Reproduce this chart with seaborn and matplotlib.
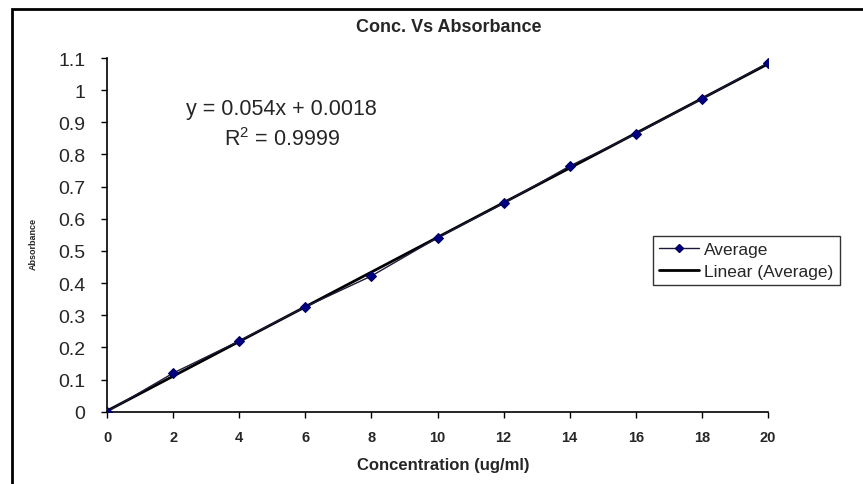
import matplotlib
matplotlib.use("Agg")
import matplotlib.pyplot as plt
import seaborn as sns
import pandas as pd
from matplotlib.patches import Rectangle
from matplotlib.lines import Line2D

concentration = [0, 2, 4, 6, 8, 10, 12, 14, 16, 18, 20]
absorbance = [0.0, 0.120, 0.220, 0.326, 0.422, 0.541, 0.648, 0.764, 0.864, 0.973, 1.085]
x_ticks = [0, 2, 4, 6, 8, 10, 12, 14, 16, 18, 20]
y_ticks = [0, 0.1, 0.2, 0.3, 0.4, 0.5, 0.6, 0.7, 0.8, 0.9, 1.0, 1.1]
y_tick_labels = ["0", "0.1", "0.2", "0.3", "0.4", "0.5", "0.6", "0.7", "0.8", "0.9", "1", "1.1"]
title = "Conc. Vs Absorbance"
x_label = "Concentration (ug/ml)"
y_label = "Absorbance"
equation = "y = 0.054x + 0.0018"
r2_text = "R$^2$ = 0.9999"

sns.set_style("white")
plt.rcParams["font.family"] = ["Liberation Sans", "DejaVu Sans"]
plt.rcParams["mathtext.fontset"] = "custom"
plt.rcParams["mathtext.rm"] = "Liberation Sans"

df = pd.DataFrame({"Concentration": concentration, "Average": absorbance})

fig = plt.figure(figsize=(8.63, 4.85), dpi=100)
ax = fig.add_axes([107 / 863, 1 - 412.7 / 485, (768 - 107) / 863, (412.7 - 59) / 485])

# trendline
sns.regplot(data=df, x="Concentration", y="Average", ax=ax, ci=None, scatter=False,
            line_kws=dict(color="black", lw=2.0, zorder=2))
# data series
sns.lineplot(data=df, x="Concentration", y="Average", ax=ax, color="#1a1a3a", lw=1.0,
             marker="D", markersize=5, markerfacecolor="#000080", markeredgecolor="#000060",
             zorder=3)

ax.set_xlim(0, 20)
ax.set_ylim(0, 1.1)
ax.set_xticks(x_ticks)
ax.set_xticklabels([str(v) for v in x_ticks], fontsize=10.5, fontweight="bold")
ax.set_yticks(y_ticks)
ax.set_yticklabels(y_tick_labels, fontsize=14)
ax.tick_params(axis="both", direction="out", length=4.5, width=1, color="black",
               bottom=True, left=True)
ax.tick_params(axis="x", pad=9)
ax.tick_params(axis="y", pad=11)
for s in ["top", "right"]:
    ax.spines[s].set_visible(False)
for s in ["left", "bottom"]:
    ax.spines[s].set_color("black")
    ax.spines[s].set_linewidth(1.2)

ax.set_xlabel("")
ax.set_ylabel("")
fig.text(443 / 863, 1 - 466 / 485, x_label, ha="center", va="center", fontsize=12,
         fontweight="bold")
fig.text(33 / 863, 1 - 244 / 485, y_label, ha="center", va="center", fontsize=6.5,
         fontweight="bold", rotation=90)
fig.text(449 / 863, 1 - 27 / 485, title, ha="center", va="center", fontsize=13,
         fontweight="bold")

ax.text(281 / 863, 1 - 110 / 485, equation, transform=fig.transFigure, ha="center",
        va="center", fontsize=15.5)
ax.text(282 / 863, 1 - 140 / 485, r2_text, transform=fig.transFigure, ha="center",
        va="center", fontsize=15.5)

handles = [
    Line2D([], [], color="#1a1a3a", lw=1.0, marker="D", markersize=4.5,
           markerfacecolor="#000080", markeredgecolor="#000060"),
    Line2D([], [], color="black", lw=2.0),
]
leg = ax.legend(handles, ["Average", "Linear (Average)"], loc="upper left",
                bbox_to_anchor=(653 / 863, 1 - 237 / 485), bbox_transform=fig.transFigure,
                fontsize=12.5, frameon=True, fancybox=False, edgecolor="black",
                borderpad=0.35, handlelength=2.3, handletextpad=0.3, labelspacing=0.4,
                borderaxespad=0)
leg.get_frame().set_linewidth(1.0)

fig.patches.append(Rectangle((12 / 863, -0.1), 1.2, 1 - 10 / 485 + 0.1,
                             transform=fig.transFigure, fill=False, edgecolor="black",
                             lw=2.0, zorder=10))

fig.savefig("out.png", dpi=100)
